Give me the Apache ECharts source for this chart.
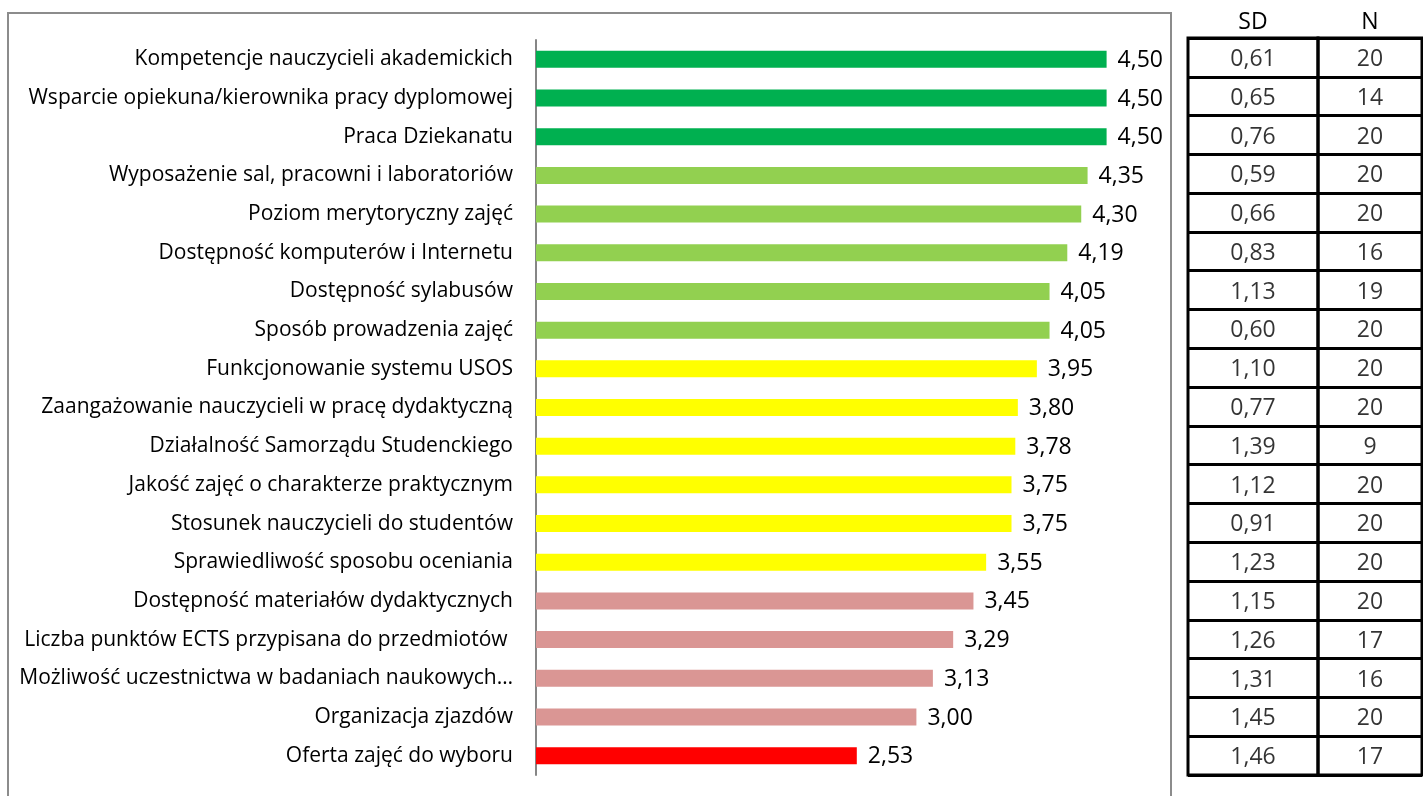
<!DOCTYPE html>
<html>
<head>
<meta charset="utf-8">
<script src="https://cdn.jsdelivr.net/npm/echarts@6/dist/echarts.min.js"></script>
<style>
  html, body { margin: 0; padding: 0; background: #fff; }
  #chart { width: 1423px; height: 796px; }
</style>
</head>
<body>
<div id="chart"></div>
<script>
// categories top to bottom
var categories = [
  'Kompetencje nauczycieli akademickich',
  'Wsparcie opiekuna/kierownika pracy dyplomowej',
  'Praca Dziekanatu',
  'Wyposażenie sal, pracowni i laboratoriów',
  'Poziom merytoryczny zajęć',
  'Dostępność komputerów i Internetu',
  'Dostępność sylabusów',
  'Sposób prowadzenia zajęć',
  'Funkcjonowanie systemu USOS',
  'Zaangażowanie nauczycieli w pracę dydaktyczną',
  'Działalność Samorządu Studenckiego',
  'Jakość zajęć o charakterze praktycznym',
  'Stosunek nauczycieli do studentów',
  'Sprawiedliwość sposobu oceniania',
  'Dostępność materiałów dydaktycznych',
  'Liczba punktów ECTS przypisana do przedmiotów ',
  'Możliwość uczestnictwa w badaniach naukowych…',
  'Organizacja zjazdów',
  'Oferta zajęć do wyboru'
];
var means = [4.50, 4.50, 4.50, 4.35, 4.30, 4.19, 4.05, 4.05, 3.95, 3.80, 3.78, 3.75, 3.75, 3.55, 3.45, 3.29, 3.13, 3.00, 2.53];
var sdValues = ['0,61', '0,65', '0,76', '0,59', '0,66', '0,83', '1,13', '0,60', '1,10', '0,77', '1,39', '1,12', '0,91', '1,23', '1,15', '1,26', '1,31', '1,45', '1,46'];
var nValues = [20, 14, 20, 20, 20, 16, 19, 20, 20, 20, 9, 20, 20, 20, 20, 17, 16, 20, 17];
var tableHeaders = ['SD', 'N'];

function barColor(v) {
  if (v >= 4.5) return '#00B050';
  if (v >= 4) return '#92D050';
  if (v >= 3.5) return '#FFFF00';
  if (v >= 3) return '#DA9694';
  return '#FF0000';
}

var font = 'Open Sans';
var myChart = echarts.init(document.getElementById('chart'));

var tableY = function (idx) {
  return {
    type: 'category', gridIndex: idx, inverse: true, data: categories,
    axisLine: { show: false }, axisTick: { show: false }, axisLabel: { show: false },
    splitLine: { show: true, lineStyle: { color: '#000', width: 3 } }
  };
};
var tableX = function (idx, name) {
  return {
    type: 'category', gridIndex: idx, position: 'top', data: [name],
    axisLine: { show: false }, axisTick: { show: false },
    splitLine: { show: false },
    axisLabel: { color: '#000', fontSize: 23, fontFamily: font, margin: 4 }
  };
};
var tableSeries = function (idx, vals) {
  return {
    type: 'scatter', xAxisIndex: idx, yAxisIndex: idx, symbolSize: 0,
    silent: true,
    data: vals.map(function (v, i) { return [tableHeaders[idx - 1], i, v]; }),
    label: {
      show: true, position: 'inside', offset: [0, 2], color: '#000', fontSize: 23, fontFamily: font,
      formatter: function (p) { return String(p.value[2]); }
    }
  };
};

var option = {
  animation: false,
  graphic: [{
    type: 'rect', shape: { x: 8, y: 13, width: 1163, height: 800 },
    style: { fill: 'none', stroke: '#8C8C8C', lineWidth: 2 }, silent: true
  }],
  grid: [
    { left: 536, right: 253, top: 40, bottom: 21 },
    { left: 1188, width: 130, top: 38, bottom: 21, show: true, borderColor: '#000', borderWidth: 3 },
    { left: 1318, right: 1, top: 38, bottom: 21, show: true, borderColor: '#000', borderWidth: 3 }
  ],
  xAxis: [
    { type: 'value', gridIndex: 0, min: 0, max: 5, show: false },
    tableX(1, tableHeaders[0]),
    tableX(2, tableHeaders[1])
  ],
  yAxis: [
    {
      type: 'category', gridIndex: 0, inverse: true, data: categories,
      axisLine: { show: true, lineStyle: { color: '#868686', width: 2 } },
      axisTick: { show: false },
      axisLabel: { color: '#000', fontSize: 21, fontFamily: font, margin: 23 }
    },
    tableY(1),
    tableY(2)
  ],
  series: [
    {
      type: 'bar', xAxisIndex: 0, yAxisIndex: 0, barWidth: 17,
      data: means.map(function (v) { return { value: v, itemStyle: { color: barColor(v) } }; }),
      label: {
        show: true, position: 'right', distance: 11, offset: [0, 1], color: '#000', fontSize: 23, fontFamily: font,
        formatter: function (p) { return p.value.toFixed(2).replace('.', ','); }
      }
    },
    tableSeries(1, sdValues),
    tableSeries(2, nValues)
  ]
};
myChart.setOption(option);
window.addEventListener('resize', function () { myChart.resize(); });
</script>
</body>
</html>
